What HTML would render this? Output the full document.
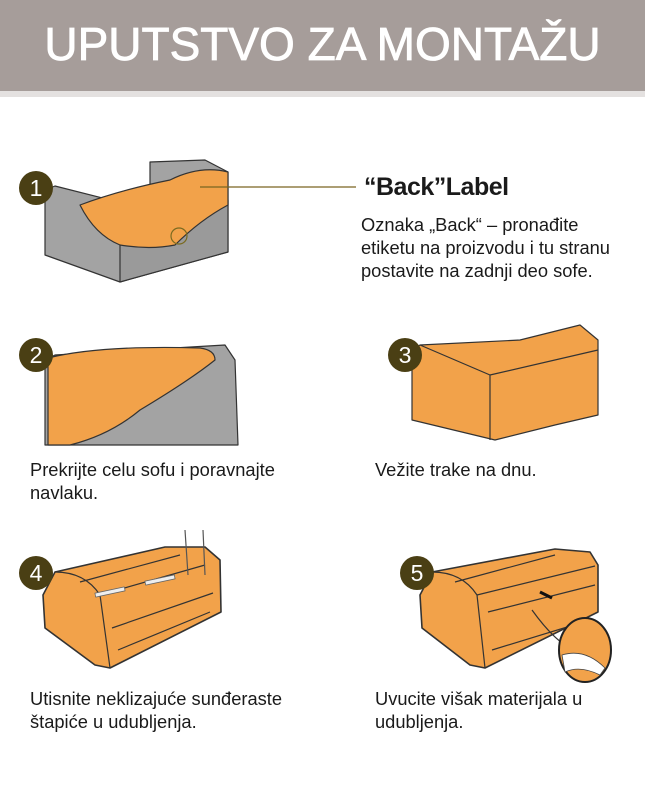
<!DOCTYPE html>
<html><head><meta charset="utf-8"><style>
body{margin:0;width:645px;height:807px;background:#fff;position:relative;overflow:hidden;font-family:"Liberation Sans",sans-serif;color:#111}
.hdr{position:absolute;left:0;top:0;width:645px;height:91px;background:#a69d9a}
.strip{position:absolute;left:0;top:91px;width:645px;height:6px;background:#e4e1e0}
.title{position:absolute;left:0;top:17px;width:645px;text-align:center;color:#fff;font-size:46px;letter-spacing:0px;-webkit-text-stroke:0.8px #fff}
.t{position:absolute;font-size:18.3px;line-height:23px;color:#1a1a1a}
svg{position:absolute;left:0;top:0}
</style></head><body>
<div class="hdr"></div><div class="strip"></div>
<div class="title">UPUTSTVO ZA MONTAŽU</div>
<svg width="645" height="807" viewBox="0 0 645 807">
<g stroke="#333" stroke-width="1.2" stroke-linejoin="round">
<polygon points="150,162 205,160 228,172 228,252 120,282 45,255 45,190 55,186 150,210" fill="#a3a3a3"/>
<polygon points="120,230 228,200 228,252 120,282" fill="#9a9a9a"/>
<path d="M80,205 Q120,190 170,180 Q200,165 228,172 L228,205 Q200,220 175,245 Q150,250 120,245 Q95,235 80,205 Z" fill="#f2a24a"/>
<circle cx="179" cy="236" r="8" fill="none" stroke="#7a6a20" stroke-width="1.2"/>
<polygon points="55,355 225,345 235,360 238,445 45,445 45,360" fill="#a3a3a3"/>
<path d="M48,358 Q100,345 200,348 Q215,350 215,360 Q190,380 140,410 Q110,435 70,445 L48,445 Z" fill="#f2a24a"/>
<path d="M420,345 L520,340 L580,325 L598,340 L598,415 L555,425 L495,440 L412,420 L412,350 Z" fill="#f2a24a"/>
<path d="M490,375 L598,350 M490,375 L490,440 M420,345 L490,375" fill="none"/>
<path d="M55,572 L165,547 L205,547 L220,560 L221,612 L110,668 L95,665 L45,628 L43,595 Z" fill="#f2a24a" stroke-width="1.6"/>
<path d="M55,572 Q85,572 100,595 L110,668 M100,595 L205,565 M112,628 L213,593 M118,650 L210,612 M80,582 L180,555" fill="none"/>
<g stroke="#666" fill="#eee" stroke-width="0.8"><rect x="95" y="590" width="30" height="4" transform="rotate(-12 110 592)"/><rect x="145" y="578" width="30" height="4" transform="rotate(-12 160 580)"/></g>
<path d="M185,530 L188,575 M203,530 L205,575" stroke="#555" fill="none"/>
<path d="M432,572 L555,549 L590,552 L598,565 L598,612 L485,668 L470,665 L422,628 L420,595 Z" fill="#f2a24a" stroke-width="1.6"/>
<path d="M432,572 Q462,572 477,595 L485,668 M477,595 L595,566 M488,612 L595,585 M492,650 L590,620 M455,582 L555,555" fill="none"/>
<path d="M532,610 Q550,635 565,645" fill="none"/>
<path d="M540,592 L552,598" stroke="#111" stroke-width="3"/>
<ellipse cx="585" cy="650" rx="26" ry="32" fill="#f2a24a" stroke="#222" stroke-width="2"/>
<path d="M562,655 Q585,648 605,668 L600,675 Q580,665 565,672 Z" fill="#fff" stroke="#444" stroke-width="0.8"/>
</g>
<line x1="200" y1="187" x2="356" y2="187" stroke="#7a6520" stroke-width="1.3"/>
<g fill="#4a3f14">
<circle cx="36" cy="188" r="17"/><circle cx="36" cy="355" r="17"/><circle cx="405" cy="355" r="17"/><circle cx="36" cy="573" r="17"/><circle cx="417" cy="573" r="17"/>
</g>
<g fill="#fff" font-family="Liberation Sans, sans-serif" font-size="23" text-anchor="middle">
<text x="36" y="196">1</text><text x="36" y="363">2</text><text x="405" y="363">3</text><text x="36" y="581">4</text><text x="417" y="581">5</text>
</g>
</svg>
<div class="t" style="left:364px;top:173px;font-size:25px;line-height:28px;font-weight:bold;letter-spacing:-0.5px">“Back”Label</div>
<div class="t" style="left:361px;top:213px">Oznaka „Back“ – pronađite<br>etiketu na proizvodu i tu stranu<br>postavite na zadnji deo sofe.</div>
<div class="t" style="left:30px;top:458px">Prekrijte celu sofu i poravnajte<br>navlaku.</div>
<div class="t" style="left:375px;top:458px">Vežite trake na dnu.</div>
<div class="t" style="left:30px;top:687px">Utisnite neklizajuće sunđeraste<br>štapiće u udubljenja.</div>
<div class="t" style="left:375px;top:687px">Uvucite višak materijala u<br>udubljenja.</div>
</body></html>
